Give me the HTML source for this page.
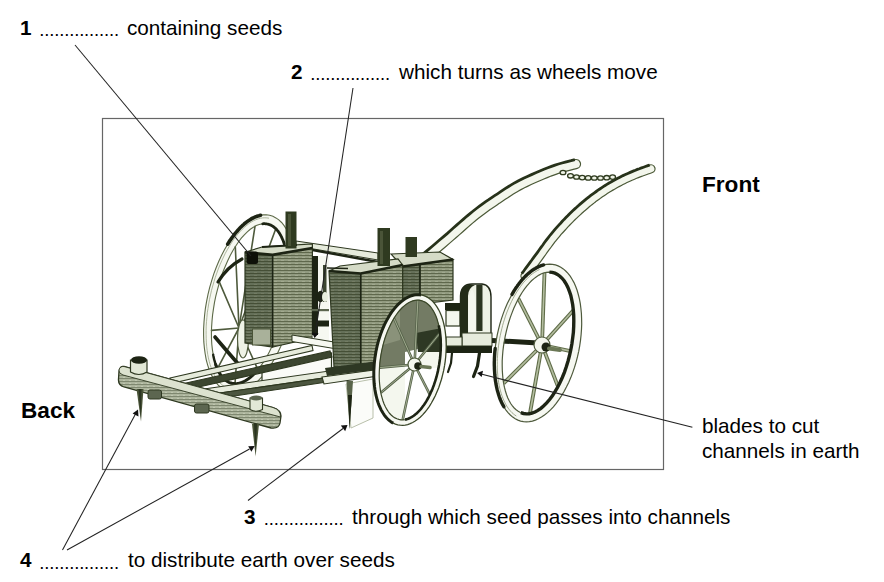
<!DOCTYPE html>
<html><head><meta charset="utf-8">
<style>
html,body{margin:0;padding:0;background:#fff;}
body{width:884px;height:582px;position:relative;overflow:hidden;font-family:"Liberation Sans",sans-serif;font-size:20.7px;color:#000;}
.t{position:absolute;white-space:pre;line-height:1;}
.n{position:absolute;font-weight:bold;line-height:1;}
.d{position:absolute;font-size:18.5px;line-height:1;letter-spacing:-0.16px;}
.h{position:absolute;font-weight:bold;font-size:22.6px;line-height:1;}
svg{position:absolute;left:0;top:0;}
</style></head><body>
<svg width="884" height="582" viewBox="0 0 884 582">
<rect x="102.5" y="118.5" width="561" height="351" fill="none" stroke="#666" stroke-width="1.2"/>
<defs>
<pattern id="hD" width="7" height="3" patternUnits="userSpaceOnUse">
<rect width="7" height="3" fill="#657059"/><rect width="7" height="1" fill="#454f36"/><rect x="2" y="2" width="3" height="1" fill="#737c64"/>
</pattern>
<pattern id="hL" width="7" height="3" patternUnits="userSpaceOnUse">
<rect width="7" height="3" fill="#929b80"/><rect width="7" height="1" fill="#5f684c"/><rect x="1" y="2" width="3" height="1" fill="#a2aa90"/>
</pattern>
<pattern id="hB" width="6" height="3" patternUnits="userSpaceOnUse">
<rect width="6" height="3" fill="#adb59d"/><rect width="6" height="1" fill="#7f8870"/><rect x="3" y="2" width="2" height="1" fill="#c0c7b1"/>
</pattern>
</defs>
<path d="M287.7 312.2 L286.1 318.8 L284.2 325.2 L282.2 331.6 L280.0 337.7 L277.6 343.7 L275.0 349.4 L272.2 354.8 L269.3 360.0 L266.3 364.7 L263.2 369.1 L260.0 373.1 L256.8 376.7 L253.5 379.8 L250.2 382.4 L246.9 384.6 L243.6 386.2 L240.3 387.4 L237.1 388.0 L234.0 388.1 L230.9 387.7 L228.0 386.8 L225.3 385.3 L222.6 383.4 L220.2 381.0 L217.9 378.1 L215.8 374.7 L213.9 370.9 L212.3 366.7 L210.9 362.1 L209.7 357.1 L208.8 351.8 L208.1 346.2 L207.7 340.4 L207.5 334.3 L207.6 328.0 L208.0 321.6 L208.6 315.0 L209.5 308.4 L210.6 301.8 L211.9 295.2 L213.5 288.6 L215.4 282.2 L217.4 275.8 L219.6 269.7 L222.0 263.7 L224.6 258.0 L227.4 252.6 L230.3 247.4 L233.3 242.7 L236.4 238.3 L239.6 234.3 L242.8 230.7 L246.1 227.6 L249.4 225.0 L252.7 222.8 L256.0 221.2 L259.3 220.0 L262.5 219.4 L265.6 219.3 L268.7 219.7 L271.6 220.6 L274.3 222.1 L277.0 224.0 L279.4 226.4 L281.7 229.3 L283.8 232.7 L285.7 236.5 L287.3 240.7 L288.7 245.3 L289.9 250.3 L290.8 255.6 L291.5 261.2 L291.9 267.0 L292.1 273.1 L292.0 279.4 L291.6 285.8 L291.0 292.4 L290.1 299.0 L289.0 305.6 L287.7 312.2" fill="none" stroke="#f6f8f1" stroke-width="8"/>
<g stroke="#4e5a3c" stroke-width="1.6" stroke-linecap="round"><line x1="239" y1="328" x2="278.0" y2="331.7"/><line x1="239" y1="328" x2="257.9" y2="369.6"/><line x1="239" y1="328" x2="235.0" y2="383.7"/><line x1="239" y1="328" x2="217.3" y2="368.8"/><line x1="239" y1="328" x2="211.5" y2="330.4"/><line x1="239" y1="328" x2="219.5" y2="282.4"/><line x1="239" y1="328" x2="235.3" y2="246.7"/><line x1="239" y1="328" x2="255.0" y2="226.3"/><line x1="239" y1="328" x2="275.8" y2="228.8"/><line x1="239" y1="328" x2="287.3" y2="258.4"/></g>
<path d="M291.6 313.1 L289.9 320.0 L287.9 326.8 L285.8 333.5 L283.4 339.9 L280.8 346.2 L278.0 352.2 L275.0 357.9 L271.9 363.2 L268.7 368.2 L265.3 372.8 L261.8 377.0 L258.3 380.7 L254.7 384.0 L251.1 386.7 L247.5 389.0 L243.8 390.7 L240.3 391.8 L236.7 392.5 L233.3 392.6 L230.0 392.1 L226.7 391.1 L223.7 389.5 L220.8 387.5 L218.0 384.9 L215.5 381.8 L213.2 378.2 L211.1 374.2 L209.2 369.7 L207.6 364.8 L206.2 359.6 L205.2 354.0 L204.4 348.1 L203.8 341.9 L203.6 335.5 L203.6 328.9 L204.0 322.1 L204.6 315.2 L205.4 308.3 L206.6 301.3 L208.0 294.3 L209.7 287.4 L211.7 280.6 L213.8 273.9 L216.2 267.5 L218.8 261.2 L221.6 255.2 L224.6 249.5 L227.7 244.2 L230.9 239.2 L234.3 234.6 L237.8 230.4 L241.3 226.7 L244.9 223.4 L248.5 220.7 L252.1 218.4 L255.8 216.7 L259.3 215.6 L262.9 214.9 L266.3 214.8 L269.6 215.3 L272.9 216.3 L275.9 217.9 L278.8 219.9 L281.6 222.5 L284.1 225.6 L286.4 229.2 L288.5 233.2 L290.4 237.7 L292.0 242.6 L293.4 247.8 L294.4 253.4 L295.2 259.3 L295.8 265.5 L296.0 271.9 L296.0 278.5 L295.6 285.3 L295.0 292.2 L294.2 299.1 L293.0 306.1 L291.6 313.1" fill="none" stroke="#5d6a48" stroke-width="1.1"/>
<path d="M230.6 389.2 L228.6 388.6 L226.6 387.8 L224.7 386.7 L222.9 385.5 L221.1 384.0 L219.4 382.3 L217.8 380.3 L216.3 378.2 L214.9 375.9 L213.5 373.3 L212.3 370.6 L211.2 367.7 L210.1 364.6 L209.2 361.3 L208.4 357.9 L207.7 354.3 L207.2 350.6 L206.7 346.8 L206.4 342.9 L206.2 338.8 L206.1 334.6 L206.1 330.4 L206.2 326.1 L206.5 321.7 L206.9 317.3 L207.3 312.8 L208.0 308.4 L208.7 303.9 L209.5 299.4 L210.5 294.9 L211.5 290.4 L212.7 286.0 L214.0 281.6 L215.3 277.3 L216.8 273.1 L218.3 268.9 L220.0 264.8 L221.7 260.9 L223.5 257.0 L225.3 253.3 L227.3 249.7 L229.3 246.3 L231.3 243.1 L233.4 239.9 L235.6 237.0 L237.7 234.3 L240.0 231.7 L242.2 229.4 L244.5 227.2 L246.8 225.3 L249.0 223.5 L251.3 222.0 L253.6 220.7 L255.9 219.7 L258.2 218.9 L260.4 218.3 L262.6 217.9 L264.8 217.8 L266.9 217.9 L269.0 218.2" fill="none" stroke="#9aa588" stroke-width="0.8"/>
<path d="M283.8 311.3 L282.2 317.5 L280.5 323.7 L278.6 329.7 L276.6 335.6 L274.3 341.2 L271.9 346.6 L269.4 351.8 L266.8 356.7 L264.0 361.2 L261.2 365.4 L258.3 369.2 L255.3 372.6 L252.3 375.6 L249.3 378.1 L246.3 380.2 L243.3 381.8 L240.4 382.9 L237.5 383.5 L234.6 383.7 L231.9 383.3 L229.3 382.5 L226.8 381.1 L224.5 379.3 L222.3 377.1 L220.3 374.3 L218.5 371.2 L216.8 367.6 L215.4 363.6 L214.2 359.3 L213.2 354.6 L212.4 349.6 L211.8 344.3 L211.5 338.8 L211.4 333.1 L211.6 327.1 L212.0 321.1 L212.6 314.9 L213.5 308.6 L214.5 302.3 L215.8 296.1 L217.4 289.9 L219.1 283.7 L221.0 277.7 L223.0 271.8 L225.3 266.2 L227.7 260.8 L230.2 255.6 L232.8 250.7 L235.6 246.2 L238.4 242.0 L241.3 238.2 L244.3 234.8 L247.3 231.8 L250.3 229.3 L253.3 227.2 L256.3 225.6 L259.2 224.5 L262.1 223.9 L265.0 223.7 L267.7 224.1 L270.3 224.9 L272.8 226.3 L275.1 228.1 L277.3 230.3 L279.3 233.1 L281.1 236.2 L282.8 239.8 L284.2 243.8 L285.4 248.1 L286.4 252.8 L287.2 257.8 L287.8 263.1 L288.1 268.6 L288.2 274.3 L288.0 280.3 L287.6 286.3 L287.0 292.5 L286.1 298.8 L285.1 305.1 L283.8 311.3" fill="none" stroke="#5d6a48" stroke-width="1.1"/>
<path d="M227.7 244.2 L228.4 243.0 L229.2 241.8 L229.9 240.6 L230.7 239.5 L231.5 238.4 L232.3 237.3 L233.1 236.2 L233.8 235.2 L234.6 234.1 L235.4 233.1 L236.3 232.1 L237.1 231.2 L237.9 230.3 L238.7 229.4 L239.5 228.5 L240.4 227.6 L241.2 226.8 L242.0 226.0 L242.9 225.2 L243.7 224.5 L244.5 223.7 L245.4 223.0 L246.2 222.4 L247.1 221.7 L247.9 221.1 L248.8 220.5 L249.6 220.0 L250.5 219.4 L251.3 218.9 L252.1 218.4 L253.0 218.0 L253.8 217.6 L254.7 217.2 L255.5 216.8 L256.4 216.5 L257.2 216.2 L258.0 215.9 L258.9 215.7 L259.7 215.5 L260.5 215.3" fill="none" stroke="#1d2414" stroke-width="3.6" stroke-linecap="round"/>
<path d="M262.8 223.8 L263.5 223.7 L264.1 223.7 L264.8 223.7 L265.5 223.8 L266.2 223.8 L266.8 223.9 L267.5 224.0 L268.1 224.2 L268.8 224.4 L269.4 224.6 L270.1 224.8 L270.7 225.1 L271.3 225.4 L271.9 225.7 L272.5 226.1 L273.1 226.5 L273.7 226.9 L274.2 227.3 L274.8 227.8 L275.4 228.3 L275.9 228.8 L276.4 229.4 L277.0 229.9 L277.5 230.6 L278.0 231.2 L278.5 231.9 L279.0 232.5 L279.4 233.3 L279.9 234.0 L280.3 234.8 L280.8 235.6 L281.2 236.4 L281.6 237.2 L282.0 238.1 L282.4 239.0 L282.8 239.9 L283.2 240.8 L283.5 241.8 L283.9 242.8 L284.2 243.8" fill="none" stroke="#1d2414" stroke-width="2.8" stroke-linecap="round"/>
<path d="M226.3 380.8 L225.8 380.5 L225.4 380.1 L224.9 379.7 L224.5 379.3 L224.1 378.9 L223.6 378.5 L223.2 378.1 L222.8 377.6 L222.4 377.1 L222.0 376.6 L221.6 376.1 L221.2 375.6 L220.8 375.1 L220.4 374.5 L220.0 373.9 L219.7 373.3 L219.3 372.7 L219.0 372.1 L218.6 371.5 L218.3 370.8 L217.9 370.1 L217.6 369.4 L217.3 368.7 L217.0 368.0 L216.7 367.3 L216.4 366.5 L216.1 365.8 L215.8 365.0 L215.6 364.2 L215.3 363.4 L215.1 362.6 L214.8 361.7 L214.6 360.9 L214.3 360.0 L214.1 359.2 L213.9 358.3 L213.7 357.4 L213.5 356.5 L213.3 355.5 L213.2 354.6" fill="none" stroke="#1d2414" stroke-width="2.4" stroke-linecap="round"/>
<path d="M254.6 373.3 L253.5 374.5 L252.3 375.6 L251.1 376.6 L250.0 377.6 L248.8 378.5 L247.6 379.3 L246.5 380.1 L245.3 380.8 L244.1 381.4 L243.0 381.9 L241.8 382.4 L240.7 382.8 L239.5 383.1 L238.4 383.4 L237.3 383.6 L236.2 383.7 L235.1 383.7 L234.0 383.6 L233.0 383.5 L231.9 383.3 L230.9 383.0 L229.9 382.7 L228.9 382.3 L227.9 381.8 L227.0 381.2 L226.0 380.6 L225.1 379.9 L224.2 379.1 L223.4 378.3 L222.5 377.3 L221.7 376.4 L220.9 375.3 L220.2 374.2 L219.5 373.0 L218.8 371.7 L218.1 370.4 L217.4 369.0 L216.8 367.6 L216.2 366.1 L215.7 364.5" fill="none" stroke="#1d2414" stroke-width="3" stroke-linecap="round"/>
<path d="M218 282 Q227 267 242 259" fill="none" stroke="#1d2414" stroke-width="3.2" stroke-linecap="round"/>
<path d="M215 337 Q226 350 240 366" fill="none" stroke="#1d2414" stroke-width="3.6" stroke-linecap="round"/>
<ellipse cx="243" cy="339" rx="5.5" ry="19" fill="#eef2e6" stroke="#4e5a3c" stroke-width="1.2"/>
<polygon points="262,366 331.5,353 331.5,372 262,386" fill="#fafbf7" stroke="#2e3820" stroke-width="1.2"/>
<g stroke="#2e3820" stroke-width="1.1">
<polygon points="186,383 330,351 332,357 190,389" fill="#3c4630"/>
<polygon points="170,378 312,345.5 313,350.5 171,383.5" fill="#e6ebdc"/>
<polygon points="204,389 392,362 393,368 206,395" fill="#e6ebdc"/>
<polygon points="206,395 393,368 393,372 208,400" fill="#4c5640"/>
</g>
<polygon points="296,241 378,253 378,260 296,246" fill="#e6ebdc" stroke="#2e3820" stroke-width="1"/>
<line x1="296" y1="247" x2="378" y2="262" stroke="#1d2414" stroke-width="2.4"/>
<g stroke="#2e3820" stroke-width="1.2">
<polygon points="245,252.2 272.6,254.9 272.6,347 245,343" fill="url(#hD)"/>
<polygon points="272.6,254.9 312.4,248 312.4,338 272.6,347" fill="url(#hL)"/>
<polygon points="245,252.2 262,247 312.4,244 312.4,248 272.6,254.9" fill="#d5dbc7"/>
<rect x="252.5" y="329" width="18" height="16" fill="#a9b19a" stroke="#4a5438" stroke-width="1"/>
</g>
<polyline points="245,252.2 272.6,254.9 312.4,248" fill="none" stroke="#1d2414" stroke-width="2.6"/>
<line x1="262" y1="247" x2="297" y2="245" stroke="#1d2414" stroke-width="2"/>
<line x1="272.6" y1="255" x2="272.6" y2="347" stroke="#1d2414" stroke-width="1.4"/>
<rect x="285.5" y="211.5" width="11" height="37" fill="#2f3a20"/><rect x="288" y="214" width="3" height="32" fill="#4a5438"/>
<rect x="246.5" y="251.5" width="11.5" height="12.5" rx="2" fill="#0d1008"/>
<rect x="312.5" y="256" width="16.5" height="88" fill="#f6f8f1"/>
<rect x="312" y="256" width="6" height="79" fill="#1d2414"/>
<rect x="323" y="265" width="3.5" height="37" fill="#3c4630"/>
<ellipse cx="320.5" cy="296.5" rx="3.8" ry="5.8" fill="#1d2414"/>
<ellipse cx="325" cy="297" rx="3" ry="5" fill="#e9eee0"/>
<rect x="312" y="309" width="17" height="2.2" fill="#5c6650"/>
<rect x="312" y="320.5" width="17" height="6" fill="#1d2414"/>
<polygon points="292,335 334,342 334,348.5 292,341.5" fill="#f6f8f1" stroke="#2e3820" stroke-width="1"/>
<polyline points="423.0,260.0 425.1,258.2 427.9,255.9 431.2,253.0 434.9,249.9 438.8,246.6 442.7,243.3 446.5,240.0 450.0,237.0 453.3,234.1 456.6,231.2 459.9,228.3 463.2,225.4 466.4,222.5 469.7,219.7 472.9,217.0 476.0,214.5 479.1,212.1 482.2,209.8 485.2,207.6 488.2,205.4 491.2,203.4 494.2,201.4 497.1,199.4 500.0,197.5 502.8,195.6 505.4,193.9 508.0,192.2 510.6,190.5 513.2,188.9 515.9,187.3 518.8,185.7 522.0,184.0 525.5,182.3 529.3,180.5 533.3,178.7 537.4,176.9 541.6,175.1 545.6,173.5 549.4,171.9 553.0,170.6 556.4,169.4 559.9,168.3 563.2,167.3 566.4,166.5 569.4,165.7 572.1,165.0 574.3,164.5 576.0,164.0" fill="none" stroke="#4a5836" stroke-width="10.2" stroke-linecap="round"/><polyline points="423.0,260.0 425.1,258.2 427.9,255.9 431.2,253.0 434.9,249.9 438.8,246.6 442.7,243.3 446.5,240.0 450.0,237.0 453.3,234.1 456.6,231.2 459.9,228.3 463.2,225.4 466.4,222.5 469.7,219.7 472.9,217.0 476.0,214.5 479.1,212.1 482.2,209.8 485.2,207.6 488.2,205.4 491.2,203.4 494.2,201.4 497.1,199.4 500.0,197.5 502.8,195.6 505.4,193.9 508.0,192.2 510.6,190.5 513.2,188.9 515.9,187.3 518.8,185.7 522.0,184.0 525.5,182.3 529.3,180.5 533.3,178.7 537.4,176.9 541.6,175.1 545.6,173.5 549.4,171.9 553.0,170.6 556.4,169.4 559.9,168.3 563.2,167.3 566.4,166.5 569.4,165.7 572.1,165.0 574.3,164.5 576.0,164.0" fill="none" stroke="#f3f6ec" stroke-width="7.8" stroke-linecap="round"/><polyline points="420.1,256.6 422.2,254.8 425.0,252.4 428.3,249.6 432.0,246.5 435.8,243.2 439.8,239.8 443.6,236.6 447.1,233.6 450.3,230.7 453.6,227.8 456.9,224.9 460.2,222.0 463.5,219.1 466.7,216.3 470.0,213.6 473.2,211.0 476.4,208.5 479.5,206.2 482.6,203.9 485.7,201.7 488.7,199.7 491.7,197.6 494.6,195.7 497.5,193.8 500.3,191.9 502.9,190.1 505.5,188.4 508.2,186.7 510.8,185.1 513.7,183.4 516.7,181.7 520.0,180.0 523.5,178.2 527.4,176.4 531.5,174.6 535.7,172.7 539.8,171.0 543.9,169.3 547.8,167.8 551.5,166.4 555.0,165.1 558.5,164.0 562.0,163.0 565.3,162.1 568.3,161.3 571.0,160.7 573.1,160.1 574.8,159.7" fill="none" stroke="#27321a" stroke-width="2.8"/>
<polyline points="525.0,276.0 526.1,274.5 527.5,272.6 529.2,270.3 531.1,267.7 533.1,265.0 535.2,262.2 537.2,259.5 539.0,257.0 540.8,254.6 542.5,252.2 544.2,249.7 546.0,247.3 547.8,244.9 549.5,242.5 551.2,240.2 553.0,238.0 554.8,235.9 556.5,233.8 558.2,231.7 560.0,229.8 561.8,227.8 563.5,225.9 565.2,224.0 567.0,222.2 568.8,220.4 570.5,218.6 572.2,216.9 574.0,215.2 575.8,213.5 577.5,211.9 579.2,210.3 581.0,208.7 582.8,207.2 584.5,205.7 586.2,204.2 588.0,202.7 589.8,201.3 591.5,200.0 593.2,198.6 595.0,197.3 596.8,196.0 598.5,194.7 600.2,193.5 602.0,192.3 603.8,191.1 605.5,190.0 607.2,188.9 609.0,187.8 610.8,186.7 612.5,185.7 614.2,184.7 616.0,183.7 617.8,182.8 619.5,181.9 621.2,181.0 623.0,180.1 624.8,179.2 626.5,178.4 628.2,177.6 630.0,176.8 631.8,176.1 633.5,175.3 635.2,174.6 637.0,173.9 638.8,173.2 640.8,172.4 642.9,171.7 644.9,171.0 646.8,170.3 648.5,169.7 649.9,169.2 651.0,168.8" fill="none" stroke="#4a5836" stroke-width="9.2" stroke-linecap="round"/><polyline points="525.0,276.0 526.1,274.5 527.5,272.6 529.2,270.3 531.1,267.7 533.1,265.0 535.2,262.2 537.2,259.5 539.0,257.0 540.8,254.6 542.5,252.2 544.2,249.7 546.0,247.3 547.8,244.9 549.5,242.5 551.2,240.2 553.0,238.0 554.8,235.9 556.5,233.8 558.2,231.7 560.0,229.8 561.8,227.8 563.5,225.9 565.2,224.0 567.0,222.2 568.8,220.4 570.5,218.6 572.2,216.9 574.0,215.2 575.8,213.5 577.5,211.9 579.2,210.3 581.0,208.7 582.8,207.2 584.5,205.7 586.2,204.2 588.0,202.7 589.8,201.3 591.5,200.0 593.2,198.6 595.0,197.3 596.8,196.0 598.5,194.7 600.2,193.5 602.0,192.3 603.8,191.1 605.5,190.0 607.2,188.9 609.0,187.8 610.8,186.7 612.5,185.7 614.2,184.7 616.0,183.7 617.8,182.8 619.5,181.9 621.2,181.0 623.0,180.1 624.8,179.2 626.5,178.4 628.2,177.6 630.0,176.8 631.8,176.1 633.5,175.3 635.2,174.6 637.0,173.9 638.8,173.2 640.8,172.4 642.9,171.7 644.9,171.0 646.8,170.3 648.5,169.7 649.9,169.2 651.0,168.8" fill="none" stroke="#f3f6ec" stroke-width="6.8" stroke-linecap="round"/><polyline points="521.8,273.6 522.9,272.2 524.3,270.2 526.0,267.9 527.9,265.3 529.9,262.6 532.0,259.8 533.9,257.1 535.8,254.6 537.5,252.3 539.3,249.8 541.0,247.4 542.8,245.0 544.5,242.5 546.3,240.1 548.1,237.8 549.9,235.5 551.7,233.3 553.5,231.2 555.2,229.1 557.0,227.1 558.8,225.1 560.6,223.2 562.3,221.3 564.1,219.4 565.9,217.6 567.7,215.8 569.4,214.0 571.2,212.3 573.0,210.6 574.8,208.9 576.6,207.3 578.3,205.7 580.1,204.1 581.9,202.6 583.7,201.1 585.5,199.6 587.3,198.2 589.0,196.8 590.8,195.4 592.6,194.1 594.4,192.8 596.2,191.5 598.0,190.2 599.8,189.0 601.5,187.8 603.3,186.6 605.1,185.5 606.9,184.4 608.7,183.3 610.5,182.3 612.3,181.2 614.1,180.2 615.9,179.3 617.7,178.3 619.4,177.4 621.2,176.5 623.0,175.6 624.8,174.8 626.6,174.0 628.4,173.2 630.2,172.4 632.0,171.6 633.7,170.9 635.5,170.2 637.4,169.4 639.4,168.7 641.5,167.9 643.5,167.2 645.4,166.5 647.2,165.9 648.6,165.4 649.7,165.0" fill="none" stroke="#27321a" stroke-width="2.8"/>
<g fill="#eef2e6" stroke="#2e3a1e" stroke-width="1.3"><ellipse cx="563" cy="172.5" rx="2.9" ry="2.2"/><ellipse cx="570.5" cy="175.8" rx="2.9" ry="2.2"/><ellipse cx="576.5" cy="177" rx="2.9" ry="2.2"/><ellipse cx="582.2" cy="177.6" rx="2.9" ry="2.2"/><ellipse cx="588.2" cy="177.9" rx="2.9" ry="2.2"/><ellipse cx="594.3" cy="178" rx="2.9" ry="2.2"/><ellipse cx="600.5" cy="178" rx="2.9" ry="2.2"/><ellipse cx="606.7" cy="177.7" rx="2.9" ry="2.2"/><ellipse cx="612.6" cy="177.1" rx="2.9" ry="2.2"/></g>
<g stroke="#2e3820" stroke-width="1.2">
<polygon points="402.6,266.5 420,264.5 420,330 402.6,334" fill="url(#hD)"/>
<polygon points="420,264.5 453,259.5 453,300 420,304" fill="url(#hL)"/>
<polygon points="391,254 440,252 453,259.5 402.6,266.5" fill="#d5dbc7"/>
</g>
<polyline points="402.6,266.5 453,259.5" fill="none" stroke="#1d2414" stroke-width="2.6"/>
<line x1="420" y1="265" x2="420" y2="330" stroke="#1d2414" stroke-width="1.3"/>
<rect x="405.5" y="237" width="11.5" height="20" fill="#2f3a20"/>
<rect x="445" y="303" width="16" height="7" fill="#1d2414"/>
<rect x="446" y="310.5" width="14" height="15.5" fill="#f4f7ee" stroke="#2e3820" stroke-width="1.2"/>
<g stroke="#2e3820" stroke-width="1.2">
<polygon points="329,271 360.7,273.5 360.7,371 334,367" fill="url(#hD)"/>
<polygon points="360.7,273.5 402.6,265 402.6,366 360.7,371" fill="url(#hL)"/>
<polygon points="329,271 340,266 398,259 402.6,265 360.7,273.5" fill="#d5dbc7"/>
</g>
<polyline points="329,271 360.7,273.5 402.6,265" fill="none" stroke="#1d2414" stroke-width="2.6"/>
<line x1="327" y1="268" x2="348" y2="268.5" stroke="#1d2414" stroke-width="1.6"/>
<line x1="360.7" y1="274" x2="360.7" y2="371" stroke="#1d2414" stroke-width="1.6"/>
<rect x="377.5" y="228" width="12.5" height="38" fill="#2f3a20"/><rect x="380" y="231" width="3" height="33" fill="#4a5438"/>
<polygon points="325,368 378,361 378,369 327,376" fill="#2e3824"/>
<polygon points="322,377 378,369.5 378,376 324,384" fill="#eef2e6" stroke="#2e3820" stroke-width="1.1"/>
<polygon points="346,384 373,379 373,418 351,428" fill="#fbfcf9" stroke="#b9c0ab" stroke-width="1"/>
<polygon points="346.5,381 353,381 349.6,429" fill="#59644a"/>
<polygon points="348,395 352,395 349.6,429" fill="#1d2414"/>
<path d="M460.5 346 L460.5 296 Q461 284 472 284 L482 284 Q491 285 491 297 L491 346 Z" fill="#eef2e6" stroke="#1d2414" stroke-width="1.4"/>
<path d="M460 346 L460 296 Q460.5 285 470 284.5 L475 285 Q468 288 468 296 L468 346 Z" fill="#232c18"/>
<path d="M476.3 285 L482.5 284.5 L482.5 331 L476.3 331 Z" fill="#2a3420"/>
<ellipse cx="472" cy="316" rx="3.8" ry="26" fill="#f4f7ee"/>
<rect x="462" y="333" width="30" height="13" fill="#e6ebdc" stroke="#2e3820" stroke-width="1"/>
<rect x="446" y="346" width="46" height="7" fill="#1d2414"/>
<rect x="446" y="337" width="16" height="9" fill="#e6ebdc" stroke="#2e3820" stroke-width="1"/>
<path d="M479.5 353 L477.5 366 L473.5 376.5" fill="none" stroke="#1d2414" stroke-width="3.2" stroke-linecap="round"/>
<path d="M452 353 L451 363 L448 372" fill="none" stroke="#1d2414" stroke-width="2.2" stroke-linecap="round"/>
<line x1="542" y1="345" x2="518.4" y2="298.7" stroke="#5f6c48" stroke-width="3.8"/><line x1="542" y1="345" x2="518.4" y2="298.7" stroke="#b3bd9f" stroke-width="1.6"/><line x1="542" y1="345" x2="544.5" y2="272.8" stroke="#5f6c48" stroke-width="3.8"/><line x1="542" y1="345" x2="544.5" y2="272.8" stroke="#b3bd9f" stroke-width="1.6"/><line x1="542" y1="345" x2="573.4" y2="310.2" stroke="#5f6c48" stroke-width="3.8"/><line x1="542" y1="345" x2="573.4" y2="310.2" stroke="#b3bd9f" stroke-width="1.6"/><line x1="542" y1="345" x2="570.5" y2="351.1" stroke="#5f6c48" stroke-width="3.8"/><line x1="542" y1="345" x2="570.5" y2="351.1" stroke="#b3bd9f" stroke-width="1.6"/><line x1="542" y1="345" x2="558.0" y2="386.6" stroke="#5f6c48" stroke-width="3.8"/><line x1="542" y1="345" x2="558.0" y2="386.6" stroke="#b3bd9f" stroke-width="1.6"/><line x1="542" y1="345" x2="529.9" y2="413.6" stroke="#5f6c48" stroke-width="3.8"/><line x1="542" y1="345" x2="529.9" y2="413.6" stroke="#b3bd9f" stroke-width="1.6"/><line x1="542" y1="345" x2="503.6" y2="383.4" stroke="#5f6c48" stroke-width="3.8"/><line x1="542" y1="345" x2="503.6" y2="383.4" stroke="#b3bd9f" stroke-width="1.6"/>
<line x1="492" y1="340.5" x2="538" y2="343" stroke="#1d2414" stroke-width="5"/>
<path d="M574.7 350.5 L573.6 355.7 L572.3 360.8 L570.8 365.8 L569.1 370.7 L567.3 375.5 L565.4 380.1 L563.3 384.6 L561.1 388.8 L558.8 392.8 L556.4 396.6 L553.9 400.1 L551.3 403.3 L548.7 406.3 L546.0 408.9 L543.3 411.2 L540.5 413.2 L537.7 414.9 L534.9 416.1 L532.2 417.1 L529.5 417.6 L526.8 417.8 L524.1 417.7 L521.6 417.2 L519.1 416.3 L516.7 415.0 L514.4 413.5 L512.2 411.5 L510.2 409.3 L508.3 406.7 L506.5 403.8 L504.9 400.6 L503.4 397.1 L502.2 393.3 L501.0 389.4 L500.1 385.1 L499.4 380.7 L498.8 376.1 L498.4 371.4 L498.3 366.5 L498.3 361.4 L498.5 356.3 L498.9 351.2 L499.5 346.0 L500.3 340.7 L501.3 335.5 L502.4 330.3 L503.7 325.2 L505.2 320.2 L506.9 315.3 L508.7 310.5 L510.6 305.9 L512.7 301.4 L514.9 297.2 L517.2 293.2 L519.6 289.4 L522.1 285.9 L524.7 282.7 L527.3 279.7 L530.0 277.1 L532.7 274.8 L535.5 272.8 L538.3 271.1 L541.1 269.9 L543.8 268.9 L546.5 268.4 L549.2 268.2 L551.9 268.3 L554.4 268.8 L556.9 269.7 L559.3 271.0 L561.6 272.5 L563.8 274.5 L565.8 276.7 L567.7 279.3 L569.5 282.2 L571.1 285.4 L572.6 288.9 L573.8 292.7 L575.0 296.6 L575.9 300.9 L576.6 305.3 L577.2 309.9 L577.6 314.6 L577.7 319.5 L577.7 324.6 L577.5 329.7 L577.1 334.8 L576.5 340.0 L575.7 345.3 L574.7 350.5" fill="none" stroke="#f6f8f1" stroke-width="7.5"/>
<path d="M578.7 351.3 L577.5 356.7 L576.1 362.1 L574.5 367.4 L572.7 372.6 L570.8 377.6 L568.7 382.4 L566.4 387.1 L564.0 391.6 L561.5 395.8 L558.9 399.7 L556.2 403.4 L553.4 406.8 L550.5 409.9 L547.5 412.6 L544.5 415.0 L541.5 417.1 L538.4 418.8 L535.4 420.1 L532.4 421.1 L529.4 421.6 L526.4 421.8 L523.5 421.6 L520.6 421.1 L517.9 420.1 L515.2 418.8 L512.7 417.1 L510.3 415.0 L508.0 412.6 L505.8 409.8 L503.9 406.8 L502.0 403.4 L500.4 399.7 L498.9 395.7 L497.7 391.5 L496.6 387.1 L495.7 382.4 L495.1 377.5 L494.6 372.5 L494.4 367.3 L494.3 362.0 L494.5 356.7 L494.9 351.2 L495.5 345.7 L496.3 340.2 L497.3 334.7 L498.5 329.3 L499.9 323.9 L501.5 318.6 L503.3 313.4 L505.2 308.4 L507.3 303.6 L509.6 298.9 L512.0 294.4 L514.5 290.2 L517.1 286.3 L519.8 282.6 L522.6 279.2 L525.5 276.1 L528.5 273.4 L531.5 271.0 L534.5 268.9 L537.6 267.2 L540.6 265.9 L543.6 264.9 L546.6 264.4 L549.6 264.2 L552.5 264.4 L555.4 264.9 L558.1 265.9 L560.8 267.2 L563.3 268.9 L565.7 271.0 L568.0 273.4 L570.2 276.2 L572.1 279.2 L574.0 282.6 L575.6 286.3 L577.1 290.3 L578.3 294.5 L579.4 298.9 L580.3 303.6 L580.9 308.5 L581.4 313.5 L581.6 318.7 L581.7 324.0 L581.5 329.3 L581.1 334.8 L580.5 340.3 L579.7 345.8 L578.7 351.3" fill="none" stroke="#4e5a3c" stroke-width="1.2"/>
<path d="M570.8 349.7 L569.7 354.6 L568.5 359.4 L567.1 364.2 L565.6 368.9 L563.9 373.4 L562.2 377.8 L560.2 382.0 L558.2 386.1 L556.1 389.9 L553.9 393.5 L551.6 396.8 L549.3 399.9 L546.9 402.7 L544.5 405.2 L542.0 407.4 L539.5 409.3 L537.0 410.9 L534.5 412.2 L532.0 413.1 L529.6 413.6 L527.2 413.9 L524.8 413.7 L522.5 413.3 L520.3 412.5 L518.2 411.3 L516.1 409.8 L514.2 408.0 L512.4 405.9 L510.7 403.5 L509.2 400.8 L507.7 397.8 L506.5 394.5 L505.4 391.0 L504.4 387.2 L503.6 383.2 L503.0 379.1 L502.6 374.7 L502.3 370.2 L502.2 365.6 L502.2 360.9 L502.5 356.0 L502.9 351.1 L503.5 346.2 L504.3 341.3 L505.2 336.3 L506.3 331.4 L507.5 326.6 L508.9 321.8 L510.4 317.1 L512.1 312.6 L513.8 308.2 L515.8 304.0 L517.8 299.9 L519.9 296.1 L522.1 292.5 L524.4 289.2 L526.7 286.1 L529.1 283.3 L531.5 280.8 L534.0 278.6 L536.5 276.7 L539.0 275.1 L541.5 273.8 L544.0 272.9 L546.4 272.4 L548.8 272.1 L551.2 272.3 L553.5 272.7 L555.7 273.5 L557.8 274.7 L559.9 276.2 L561.8 278.0 L563.6 280.1 L565.3 282.5 L566.8 285.2 L568.3 288.2 L569.5 291.5 L570.6 295.0 L571.6 298.8 L572.4 302.8 L573.0 306.9 L573.4 311.3 L573.7 315.8 L573.8 320.4 L573.8 325.1 L573.5 330.0 L573.1 334.9 L572.5 339.8 L571.7 344.7 L570.8 349.7" fill="none" stroke="#4e5a3c" stroke-width="1.2"/>
<path d="M516.3 416.0 L514.8 415.0 L513.4 413.9 L512.0 412.7 L510.7 411.3 L509.4 409.8 L508.1 408.1 L507.0 406.4 L505.8 404.5 L504.8 402.5 L503.8 400.4 L502.9 398.2 L502.0 395.9 L501.2 393.4 L500.5 390.9 L499.8 388.3 L499.2 385.6 L498.7 382.8 L498.3 380.0 L497.9 377.1 L497.7 374.1 L497.4 371.0 L497.3 367.9 L497.3 364.8 L497.3 361.6 L497.4 358.4 L497.6 355.1 L497.8 351.8 L498.2 348.5 L498.6 345.2 L499.1 341.9 L499.6 338.6 L500.3 335.3 L501.0 332.0 L501.8 328.8 L502.6 325.5 L503.5 322.3 L504.5 319.2 L505.5 316.1 L506.6 313.0 L507.8 310.0 L509.0 307.0 L510.3 304.2 L511.6 301.4 L513.0 298.6 L514.4 296.0 L515.9 293.4 L517.4 291.0 L519.0 288.6 L520.6 286.4 L522.2 284.2 L523.8 282.2 L525.5 280.3 L527.2 278.5 L528.9 276.8 L530.7 275.2 L532.4 273.8 L534.2 272.5 L536.0 271.4 L537.7 270.4 L539.5 269.5" fill="none" stroke="#8d9878" stroke-width="0.8"/>
<path d="M549.4 272.1 L552.2 272.4 L554.9 273.2 L557.4 274.4 L559.9 276.2 L562.1 278.3 L564.3 281.0 L566.2 284.0 L567.9 287.5 L569.4 291.3 L570.8 295.5 L571.8 300.0 L572.7 304.8 L573.3 309.9 L573.7 315.2 L573.8 320.7 L573.7 326.3 L573.4 332.1 L572.7 337.9 L571.9 343.8 L570.8 349.7 L569.5 355.5 L568.0 361.2 L566.3 366.8 L564.4 372.3 L562.3 377.5 L560.0 382.5 L557.6 387.3 L555.0 391.7 L552.4 395.8 L549.6 399.5 L546.7 402.9 L543.8 405.8 L540.9 408.3 L537.9 410.4 L535.0 412.0 L532.0 413.1 L529.1 413.7 L526.3 413.9 L523.5 413.5 L520.8 412.7" fill="none" stroke="#1d2414" stroke-width="3.4"/>
<path d="M512.0 294.4 L512.6 293.3 L513.3 292.1 L514.0 290.9 L514.7 289.8 L515.4 288.7 L516.2 287.6 L516.9 286.6 L517.6 285.5 L518.4 284.5 L519.1 283.5 L519.9 282.5 L520.7 281.5 L521.4 280.6 L522.2 279.7 L523.0 278.8 L523.8 277.9 L524.6 277.1 L525.4 276.3 L526.2 275.5 L527.0 274.7 L527.8 274.0 L528.6 273.3 L529.5 272.6 L530.3 271.9 L531.1 271.3 L531.9 270.6 L532.8 270.1 L533.6 269.5 L534.4 269.0 L535.3 268.5 L536.1 268.0 L536.9 267.5 L537.8 267.1 L538.6 266.7 L539.5 266.3 L540.3 266.0 L541.1 265.7 L542.0 265.4 L542.8 265.2 L543.6 264.9" fill="none" stroke="#1d2414" stroke-width="3.4" stroke-linecap="round"/>
<path d="M503.9 406.8 L503.3 405.7 L502.7 404.7 L502.1 403.6 L501.6 402.5 L501.1 401.3 L500.6 400.2 L500.1 399.0 L499.6 397.7 L499.2 396.5 L498.8 395.2 L498.4 393.9 L498.0 392.6 L497.6 391.2 L497.2 389.9 L496.9 388.5 L496.6 387.1 L496.3 385.6 L496.0 384.2 L495.8 382.7 L495.5 381.2 L495.3 379.7 L495.1 378.1 L495.0 376.6 L494.8 375.0 L494.7 373.5 L494.6 371.9 L494.5 370.3 L494.4 368.6 L494.4 367.0 L494.3 365.4 L494.3 363.7 L494.3 362.0 L494.4 360.4 L494.4 358.7 L494.5 357.0 L494.6 355.3 L494.7 353.6 L494.8 351.9 L495.0 350.2 L495.2 348.5" fill="none" stroke="#1d2414" stroke-width="3.4" stroke-linecap="round"/>
<circle cx="542" cy="345" r="8" fill="#f4f7ee" stroke="#4e5a3c" stroke-width="1.2"/><ellipse cx="546" cy="347" rx="4.5" ry="4.5" fill="#1d2414"/><line x1="549" y1="348.5" x2="560" y2="350" stroke="#6b7856" stroke-width="4" stroke-linecap="round"/>
<clipPath id="w2c"><ellipse cx="410" cy="360" rx="31" ry="62" transform="rotate(9.6 410 360)"/></clipPath>
<g clip-path="url(#w2c)">
<polygon points="370,290 452,290 452,352 430,352 418,349 405,352 405,368 370,372" fill="#737b64"/>
<polygon points="383,296 400,296 400,340 383,345" fill="#8a927a"/>
<polygon points="416,333 442,328 445,352 418,352" fill="#2e3824"/>
<polygon points="421,352 445,352 445,368 421,368" fill="#f4f7ee"/>
<polygon points="370,368 405,366 405,430 370,430" fill="#f4f7ee"/>
</g>
<line x1="414.5" y1="364.5" x2="393.9" y2="318.3" stroke="#56634a" stroke-width="2.6"/><line x1="414.5" y1="364.5" x2="393.9" y2="318.3" stroke="#a9b396" stroke-width="0.9"/><line x1="414.5" y1="364.5" x2="417.9" y2="300.1" stroke="#56634a" stroke-width="2.6"/><line x1="414.5" y1="364.5" x2="417.9" y2="300.1" stroke="#a9b396" stroke-width="0.9"/><line x1="414.5" y1="364.5" x2="440.1" y2="332.9" stroke="#56634a" stroke-width="2.6"/><line x1="414.5" y1="364.5" x2="440.1" y2="332.9" stroke="#a9b396" stroke-width="0.9"/><line x1="414.5" y1="364.5" x2="429.9" y2="394.7" stroke="#56634a" stroke-width="2.6"/><line x1="414.5" y1="364.5" x2="429.9" y2="394.7" stroke="#a9b396" stroke-width="0.9"/><line x1="414.5" y1="364.5" x2="402.7" y2="419.8" stroke="#56634a" stroke-width="2.6"/><line x1="414.5" y1="364.5" x2="402.7" y2="419.8" stroke="#a9b396" stroke-width="0.9"/><line x1="414.5" y1="364.5" x2="380.8" y2="392.7" stroke="#56634a" stroke-width="2.6"/><line x1="414.5" y1="364.5" x2="380.8" y2="392.7" stroke="#a9b396" stroke-width="0.9"/><line x1="414.5" y1="364.5" x2="379.5" y2="367.6" stroke="#56634a" stroke-width="2.6"/><line x1="414.5" y1="364.5" x2="379.5" y2="367.6" stroke="#a9b396" stroke-width="0.9"/>
<path d="M441.8 365.4 L441.0 369.7 L440.1 374.0 L439.0 378.2 L437.7 382.4 L436.3 386.4 L434.8 390.3 L433.2 394.1 L431.4 397.6 L429.6 401.0 L427.6 404.2 L425.6 407.2 L423.5 410.0 L421.3 412.5 L419.1 414.8 L416.8 416.7 L414.5 418.5 L412.1 419.9 L409.8 421.0 L407.5 421.9 L405.1 422.4 L402.8 422.6 L400.6 422.6 L398.3 422.2 L396.2 421.5 L394.1 420.5 L392.1 419.3 L390.1 417.7 L388.3 415.9 L386.6 413.7 L384.9 411.4 L383.4 408.7 L382.1 405.9 L380.8 402.8 L379.8 399.5 L378.8 396.0 L378.0 392.3 L377.4 388.5 L376.9 384.5 L376.6 380.5 L376.5 376.3 L376.5 372.0 L376.7 367.7 L377.0 363.4 L377.5 359.0 L378.2 354.6 L379.0 350.3 L379.9 346.0 L381.0 341.8 L382.3 337.6 L383.7 333.6 L385.2 329.7 L386.8 325.9 L388.6 322.4 L390.4 319.0 L392.4 315.8 L394.4 312.8 L396.5 310.0 L398.7 307.5 L400.9 305.2 L403.2 303.3 L405.5 301.5 L407.9 300.1 L410.2 299.0 L412.5 298.1 L414.9 297.6 L417.2 297.4 L419.4 297.4 L421.7 297.8 L423.8 298.5 L425.9 299.5 L427.9 300.7 L429.9 302.3 L431.7 304.1 L433.4 306.3 L435.1 308.6 L436.6 311.3 L437.9 314.1 L439.2 317.2 L440.2 320.5 L441.2 324.0 L442.0 327.7 L442.6 331.5 L443.1 335.5 L443.4 339.5 L443.5 343.7 L443.5 348.0 L443.3 352.3 L443.0 356.6 L442.5 361.0 L441.8 365.4" fill="none" stroke="#f6f8f1" stroke-width="4.8"/>
<path d="M444.5 365.8 L443.7 370.4 L442.6 374.8 L441.5 379.2 L440.1 383.5 L438.7 387.7 L437.0 391.8 L435.3 395.7 L433.4 399.4 L431.4 403.0 L429.4 406.3 L427.2 409.4 L424.9 412.3 L422.6 414.9 L420.2 417.2 L417.7 419.3 L415.2 421.0 L412.7 422.5 L410.2 423.7 L407.7 424.6 L405.2 425.1 L402.7 425.3 L400.2 425.2 L397.8 424.8 L395.4 424.1 L393.2 423.1 L391.0 421.7 L388.9 420.1 L386.9 418.2 L385.0 415.9 L383.2 413.4 L381.6 410.7 L380.1 407.7 L378.7 404.5 L377.5 401.0 L376.5 397.4 L375.6 393.5 L374.9 389.5 L374.4 385.4 L374.0 381.1 L373.8 376.8 L373.8 372.3 L374.0 367.8 L374.3 363.3 L374.8 358.7 L375.5 354.2 L376.3 349.6 L377.4 345.2 L378.5 340.8 L379.9 336.5 L381.3 332.3 L383.0 328.2 L384.7 324.3 L386.6 320.6 L388.6 317.0 L390.6 313.7 L392.8 310.6 L395.1 307.7 L397.4 305.1 L399.8 302.8 L402.3 300.7 L404.8 299.0 L407.3 297.5 L409.8 296.3 L412.3 295.4 L414.8 294.9 L417.3 294.7 L419.8 294.8 L422.2 295.2 L424.6 295.9 L426.8 296.9 L429.0 298.3 L431.1 299.9 L433.1 301.8 L435.0 304.1 L436.8 306.6 L438.4 309.3 L439.9 312.3 L441.3 315.5 L442.5 319.0 L443.5 322.6 L444.4 326.5 L445.1 330.5 L445.6 334.6 L446.0 338.9 L446.2 343.2 L446.2 347.7 L446.0 352.2 L445.7 356.7 L445.2 361.3 L444.5 365.8" fill="none" stroke="#3a4628" stroke-width="1.3"/>
<path d="M393.2 423.1 L391.6 422.2 L390.1 421.1 L388.6 419.9 L387.2 418.5 L385.8 417.0 L384.5 415.3 L383.3 413.5 L382.1 411.6 L381.0 409.6 L380.0 407.4 L379.0 405.1 L378.1 402.8 L377.3 400.3 L376.6 397.7 L375.9 395.0 L375.4 392.2 L374.9 389.4 L374.5 386.4 L374.2 383.5 L374.0 380.4 L373.8 377.3 L373.8 374.2 L373.8 371.0 L374.0 367.8 L374.2 364.6 L374.5 361.4 L374.9 358.1 L375.4 354.9 L375.9 351.7 L376.6 348.5 L377.3 345.3 L378.1 342.2 L379.0 339.1 L380.0 336.1 L381.0 333.1 L382.1 330.2 L383.3 327.4 L384.5 324.6 L385.9 321.9 L387.2 319.4 L388.6 316.9 L390.1 314.5 L391.6 312.2 L393.2 310.1 L394.8 308.1 L396.4 306.2 L398.1 304.4 L399.8 302.8 L401.6 301.3 L403.3 300.0 L405.1 298.8 L406.9 297.7 L408.6 296.8 L410.4 296.1 L412.2 295.5 L414.0 295.0 L415.8 294.8 L417.5 294.7 L419.3 294.7 L421.0 294.9" fill="none" stroke="#1d2414" stroke-width="3"/>
<path d="M439.1 364.9 L438.3 369.1 L437.4 373.2 L436.4 377.2 L435.2 381.2 L433.9 385.0 L432.5 388.8 L430.9 392.3 L429.3 395.8 L427.6 399.0 L425.8 402.1 L423.9 405.0 L422.0 407.6 L420.0 410.0 L417.9 412.2 L415.8 414.1 L413.7 415.8 L411.5 417.2 L409.4 418.3 L407.2 419.1 L405.1 419.6 L403.0 419.8 L400.9 419.8 L398.9 419.4 L396.9 418.8 L395.0 417.9 L393.2 416.7 L391.4 415.2 L389.7 413.5 L388.2 411.5 L386.7 409.2 L385.4 406.7 L384.1 404.0 L383.0 401.0 L382.1 397.9 L381.2 394.6 L380.5 391.1 L380.0 387.4 L379.6 383.7 L379.3 379.8 L379.2 375.8 L379.3 371.7 L379.5 367.6 L379.8 363.4 L380.3 359.3 L380.9 355.1 L381.7 350.9 L382.6 346.8 L383.6 342.8 L384.8 338.8 L386.1 335.0 L387.5 331.2 L389.1 327.7 L390.7 324.2 L392.4 321.0 L394.2 317.9 L396.1 315.0 L398.0 312.4 L400.0 310.0 L402.1 307.8 L404.2 305.9 L406.3 304.2 L408.5 302.8 L410.6 301.7 L412.8 300.9 L414.9 300.4 L417.0 300.2 L419.1 300.2 L421.1 300.6 L423.1 301.2 L425.0 302.1 L426.8 303.3 L428.6 304.8 L430.3 306.5 L431.8 308.5 L433.3 310.8 L434.6 313.3 L435.9 316.0 L437.0 319.0 L437.9 322.1 L438.8 325.4 L439.5 328.9 L440.0 332.6 L440.4 336.3 L440.7 340.2 L440.8 344.2 L440.7 348.3 L440.5 352.4 L440.2 356.6 L439.7 360.7 L439.1 364.9" fill="none" stroke="#3a4628" stroke-width="1.2"/>
<path d="M438.8 325.4 L439.1 327.2 L439.5 328.9 L439.8 330.7 L440.0 332.6 L440.2 334.4 L440.4 336.3 L440.6 338.3 L440.7 340.2 L440.7 342.2 L440.8 344.2 L440.8 346.2 L440.7 348.3 L440.7 350.3 L440.5 352.4 L440.4 354.5 L440.2 356.6 L440.0 358.7 L439.7 360.7 L439.4 362.8 L439.1 364.9 L438.7 367.0 L438.3 369.1 L437.9 371.1 L437.4 373.2 L436.9 375.2 L436.4 377.2 L435.8 379.2 L435.2 381.2 L434.5 383.1 L433.9 385.0 L433.2 386.9 L432.5 388.8 L431.7 390.6 L430.9 392.3 L430.1 394.1 L429.3 395.8 L428.5 397.4 L427.6 399.0 L426.7 400.6 L425.8 402.1 L424.9 403.6 L423.9 405.0 L422.9 406.3 L422.0 407.6 L421.0 408.9 L420.0 410.0 L418.9 411.2 L417.9 412.2 L416.9 413.2 L415.8 414.1 L414.7 415.0 L413.7 415.8 L412.6 416.5 L411.5 417.2 L410.5 417.7 L409.4 418.3 L408.3 418.7 L407.2 419.1 L406.2 419.4 L405.1 419.6" fill="none" stroke="#1d2414" stroke-width="2.6"/>
<circle cx="414.5" cy="364.5" r="6.5" fill="#f4f7ee" stroke="#4e5a3c" stroke-width="1.2"/><ellipse cx="418" cy="366" rx="3.8" ry="3.8" fill="#1d2414"/><line x1="421" y1="366.5" x2="430" y2="367.5" stroke="#6b7856" stroke-width="3.5" stroke-linecap="round"/>
<g stroke="#2e3820" stroke-width="1.3">
<path d="M124 366.5 L273 407.5 Q281 410 281 416 L280 423 Q279 429 271 428 L124 387 Q118 385 118.5 379 L119 371 Q120 365.5 124 366.5 Z" fill="url(#hB)"/>
<path d="M124 366.5 L273 407.5 Q281 410 280.5 417 L123 375 Q118.5 373.5 119 370 Q120 366 124 366.5 Z" fill="#dce2cf" stroke-width="0.9"/>
</g>
<rect x="148" y="390" width="13.5" height="9" rx="2" fill="#5c6650" stroke="#2e3820"/>
<rect x="194.5" y="404" width="14.5" height="9" rx="2" fill="#5c6650" stroke="#2e3820"/>
<path d="M130.5 360 L130.5 372 Q139 377 147 372 L147 360 Z" fill="#e2e8d6" stroke="#2e3820" stroke-width="1.2"/>
<ellipse cx="139" cy="360" rx="8" ry="3.8" fill="#1d2414"/>
<path d="M250 398 L250 409.5 Q256 413 262.5 409.5 L262.5 398 Z" fill="#e2e8d6" stroke="#2e3820" stroke-width="1.1"/>
<ellipse cx="256.2" cy="398" rx="6.2" ry="2.5" fill="#5c6650"/>
<polygon points="136.5,389 143.5,389 141,421.5" fill="#4a5438"/>
<polygon points="138.5,389 141.5,389 140.8,418" fill="#2a3420"/>
<polygon points="252,424 259,424 255.6,456.5" fill="#4a5438"/>
<polygon points="254,424 257,424 255.6,452" fill="#2a3420"/>
<g stroke="#222" stroke-width="1.05" fill="none">
<line x1="75" y1="45" x2="251" y2="256"/>
<line x1="353" y1="88" x2="315.5" y2="332"/>
<line x1="248" y1="500.5" x2="343" y2="428.5"/>
<line x1="62.5" y1="550" x2="135.5" y2="414"/>
<line x1="67" y1="550" x2="249.5" y2="449"/>
<line x1="692.4" y1="427.3" x2="482" y2="374.3"/>
</g>
<g fill="#111">
<polygon points="314.6,338 311.8,332.4 318.6,333.4"/>
<polygon points="347.5,425.1 345.2,431.2 340.8,425.6"/>
<polygon points="138,409.4 138.5,416.5 132.6,413.5"/>
<polygon points="254.7,446 251.4,451.8 248.2,446.3"/>
<polygon points="477,373 483,370.8 481.7,377"/>
</g>
</svg>
<!-- label 1: baseline 34.5 -->
<div class="n" style="left:20px;top:17.8px">1</div>
<div class="d" style="left:39.3px;top:20.5px">................</div>
<div class="t" style="left:127px;top:17.8px">containing seeds</div>
<!-- label 2: baseline 78.6 -->
<div class="n" style="left:291px;top:61.8px">2</div>
<div class="d" style="left:310.3px;top:64.5px">................</div>
<div class="t" style="left:399px;top:61.8px">which turns as wheels move</div>
<div class="h" style="left:702px;top:173.9px">Front</div>
<div class="h" style="left:21px;top:399.5px">Back</div>
<div class="t" style="left:702px;top:416.4px">blades to cut</div>
<div class="t" style="left:702px;top:441.3px">channels in earth</div>
<!-- label 3 baseline 524 -->
<div class="n" style="left:244px;top:506.8px">3</div>
<div class="d" style="left:263.8px;top:510px">................</div>
<div class="t" style="left:352px;top:506.8px">through which seed passes into channels</div>
<!-- label 4 baseline 567.5 -->
<div class="n" style="left:20px;top:550.3px">4</div>
<div class="d" style="left:39.3px;top:553.5px">................</div>
<div class="t" style="left:128px;top:550.3px">to distribute earth over seeds</div>
</body></html>
